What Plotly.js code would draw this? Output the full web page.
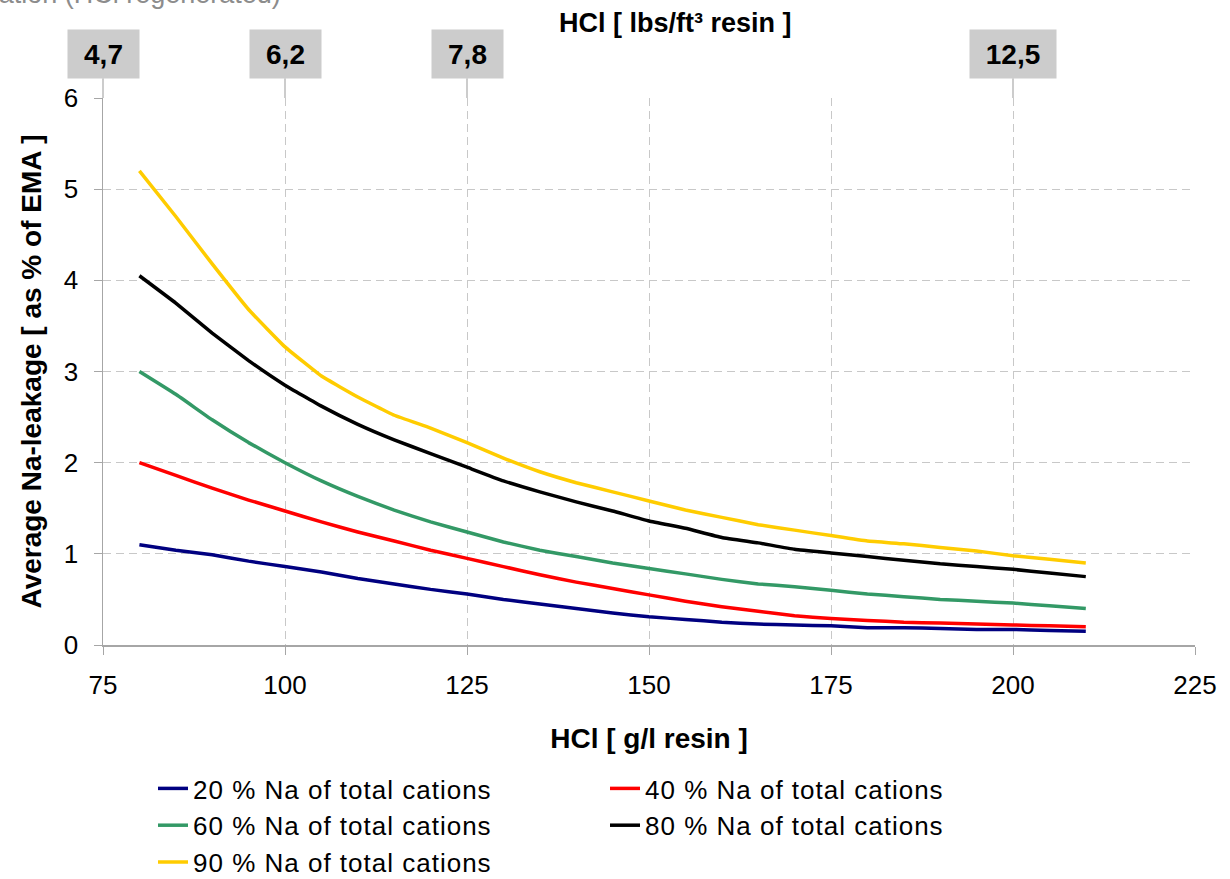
<!DOCTYPE html>
<html>
<head>
<meta charset="utf-8">
<script src="https://cdn.plot.ly/plotly-3.0.1.min.js"></script>
<style>html,body{margin:0;padding:0;background:#fff;}#chart{width:1230px;height:879px;}
#chart .legendtext{letter-spacing:1px;}</style>
</head>
<body>
<div id="chart"></div>
<script>
const hclGL = [80, 85, 90, 95, 100, 105, 110, 115, 120, 125, 130, 135, 140, 145, 150, 155, 160, 165, 170, 175, 180, 185, 190, 195, 200, 205, 210];
const na20 = [1.10, 1.04, 0.99, 0.92, 0.86, 0.80, 0.73, 0.67, 0.61, 0.56, 0.50, 0.45, 0.40, 0.35, 0.31, 0.28, 0.25, 0.23, 0.22, 0.21, 0.19, 0.19, 0.18, 0.17, 0.17, 0.16, 0.15];
const na40 = [2.00, 1.86, 1.72, 1.59, 1.47, 1.35, 1.24, 1.14, 1.04, 0.95, 0.86, 0.77, 0.69, 0.62, 0.55, 0.48, 0.42, 0.37, 0.32, 0.29, 0.27, 0.25, 0.24, 0.23, 0.22, 0.21, 0.20];
const na60 = [3.00, 2.75, 2.47, 2.22, 2.00, 1.80, 1.63, 1.48, 1.35, 1.24, 1.13, 1.04, 0.97, 0.90, 0.84, 0.78, 0.72, 0.67, 0.64, 0.60, 0.56, 0.53, 0.50, 0.48, 0.46, 0.43, 0.40];
const na80 = [4.05, 3.75, 3.42, 3.12, 2.85, 2.62, 2.42, 2.25, 2.10, 1.95, 1.80, 1.68, 1.57, 1.47, 1.36, 1.28, 1.18, 1.12, 1.05, 1.01, 0.97, 0.93, 0.89, 0.86, 0.83, 0.79, 0.75];
const na90 = [5.20, 4.70, 4.18, 3.68, 3.27, 2.95, 2.72, 2.52, 2.38, 2.22, 2.05, 1.90, 1.78, 1.68, 1.58, 1.48, 1.40, 1.32, 1.26, 1.20, 1.14, 1.11, 1.07, 1.03, 0.98, 0.94, 0.90];
const seriesNames = ["20 % Na of total cations", "40 % Na of total cations", "60 % Na of total cations", "80 % Na of total cations", "90 % Na of total cations"];
const seriesColors = ["#000080", "#ff0000", "#339966", "#000000", "#ffcc00"];
const topTickGL = [75, 100, 125, 200];
const topTickLbs = ["4,7", "6,2", "7,8", "12,5"];
const xTicks = [75, 100, 125, 150, 175, 200, 225];
const yTicks = [0, 1, 2, 3, 4, 5, 6];

const F = "Arial, 'Liberation Sans', sans-serif";
const W = 1230, H = 879, L = 103, R = 35, T = 98, B = 234;
const pw = W - L - R, ph = H - T - B;

const allY = [na20, na40, na60, na80, na90];
const traces = allY.map((ys, i) => ({
  x: hclGL, y: ys, type: 'scatter', mode: 'lines', name: seriesNames[i],
  line: {color: seriesColors[i], width: 3.5, shape: 'spline', smoothing: 0.3}
}));

const annotations = topTickGL.map((v, i) => ({
  x: v, xref: 'x', y: 1, yref: 'paper', text: '<b>' + topTickLbs[i] + '</b>',
  showarrow: true, arrowhead: 0, arrowwidth: 1, arrowcolor: '#999999',
  ax: 0, ay: -44, bgcolor: '#cccccc', width: i === 3 ? 84 : 69, height: 46,
  font: {family: F, size: 28, color: '#000'}
}));
annotations.push({
  x: (675 - L) / pw, xref: 'paper', y: 1 + (T - 23) / ph, yref: 'paper', yanchor: 'middle',
  text: '<b>HCl [ lbs/ft³ resin ]</b>',
  showarrow: false, font: {family: F, size: 27, color: '#000'}
});
annotations.push({
  x: (283 - L) / pw, xref: 'paper', xanchor: 'right', y: 1 + (T + 6) / ph, yref: 'paper', yanchor: 'middle',
  text: 'Counter-current regeneration (HCl regenerated)',
  showarrow: false, font: {family: F, size: 27, color: '#8c8c8c'}
});

const layout = {
  width: W, height: H,
  margin: {l: L, r: R, t: T, b: B, autoexpand: false},
  paper_bgcolor: '#fff', plot_bgcolor: '#fff',
  showlegend: true,
  legend: {
    orientation: 'h', xref: 'container', yref: 'container',
    x: 153 / W, xanchor: 'left', y: 1 - 765 / H, yanchor: 'top',
    entrywidth: 407, entrywidthmode: 'pixels', tracegroupgap: 0,
    font: {family: F, size: 26, color: '#000'}
  },
  xaxis: {
    range: [75, 225], tickvals: xTicks, ticktext: xTicks.map(String), automargin: false,
    showline: true, linecolor: '#a6a6a6', linewidth: 1.5,
    ticks: 'outside', ticklen: 8, tickcolor: '#a6a6a6', ticklabelstandoff: 8,
    showgrid: true, gridcolor: '#c8c8c8', griddash: '8px,5px', gridwidth: 1,
    zeroline: false, tickfont: {family: F, size: 26, color: '#000'},
    title: {text: '<b>HCl [ g/l resin ]</b>', font: {family: F, size: 28, color: '#000'}, standoff: 29}
  },
  yaxis: {
    range: [0, 6], tickvals: yTicks, ticktext: yTicks.map(String), automargin: false,
    showline: true, linecolor: '#a6a6a6', linewidth: 1.5,
    ticks: 'outside', ticklen: 8, tickcolor: '#a6a6a6', ticklabelstandoff: 10,
    showgrid: true, gridcolor: '#c8c8c8', griddash: '8px,5px', gridwidth: 1,
    zeroline: false, tickfont: {family: F, size: 26, color: '#000'},
    title: {text: '<b>Average Na-leakage [ as % of EMA ]</b>', font: {family: F, size: 28, color: '#000'}, standoff: 14}
  },
  annotations: annotations
};
Plotly.newPlot('chart', traces, layout, {displayModeBar: false, staticPlot: true});
</script>
</body>
</html>
